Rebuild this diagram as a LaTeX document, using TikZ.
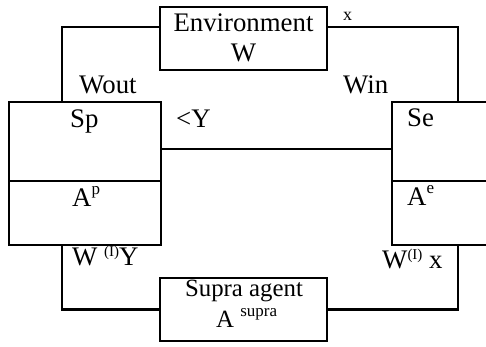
\documentclass[tikz,border=0pt]{standalone}
\usepackage{fontspec}
\setmainfont{Liberation Serif}
\newcommand{\supsc}[1]{\raisebox{0.42em}{\fontsize{17}{17}\selectfont #1}}
\newcommand{\supsl}[1]{\raisebox{0.30em}{\fontsize{15}{15}\selectfont #1}}
\begin{document}
\begin{tikzpicture}[x=1pt,y=-1pt,
  box/.style={draw, line width=2.7pt, rectangle, inner sep=0pt},
  conn/.style={line width=2.7pt},
  lab/.style={inner sep=0pt, font=\fontsize{26.8}{30}\selectfont},
  labs/.style={inner sep=0pt, font=\fontsize{24.8}{28}\selectfont},
  small/.style={inner sep=0pt, font=\fontsize{18}{20}\selectfont}]
\clip (0,0) rectangle (486,347);
\node[box, minimum width=167pt, minimum height=63pt] (env) at (243.5,38.5) {};
\node[box, minimum width=152pt, minimum height=79pt] (sp) at (85,141.5) {};
\node[box, minimum width=152pt, minimum height=64pt] (ap) at (85,213) {};
\node[box, minimum width=118pt, minimum height=79pt] (se) at (451,141.5) {};
\node[box, minimum width=118pt, minimum height=64pt] (ae) at (451,213) {};
\node[box, minimum width=167pt, minimum height=63pt] (supra) at (243.5,309.5) {};
\coordinate (lx) at (62,0);
\coordinate (rx) at (458,0);
\coordinate (ty) at (0,27);
\coordinate (my) at (0,149);
\draw[conn] (env.west |- ty) -| (sp.north -| lx);
\draw[conn] (env.east |- ty) -| (se.north -| rx);
\draw[conn] (sp.east |- my) -- (se.west |- my);
\draw[conn] (ap.south -| lx) |- (supra.west);
\draw[conn] (ae.south -| rx) |- (supra.east);
% labels
\node[lab, anchor=base] (t1) at (243.5,32) {Environment};
\node[lab, anchor=base] (t2) at (243.5,62) {W};
\node[small, anchor=base west] (t3) at (343,21) {x};
\node[lab, anchor=base west] (t4) at (79,94) {Wout};
\node[lab, anchor=base west] (t5) at (343,94) {Win};
\node[lab, anchor=base west] (t6) at (70,128) {Sp};
\node[lab, anchor=base west] (t7) at (176,128) {<Y};
\node[lab, anchor=base west] (t8) at (407,127) {Se};
\node[lab, anchor=base west] (t9) at (72,206) {A\supsc{p}};
\node[lab, anchor=base west] (t10) at (407,205) {A\supsc{e}};
\node[lab, anchor=base west] (t11) at (72,265) {W \supsl{(I)}Y};
\node[lab, anchor=base west] (t12) at (382,268) {W\supsl{(I)} x};
\node[labs, anchor=base] (t13) at (244,296) {Supra agent};
\node[labs, anchor=base west] (t14) at (216,327) {A \supsc{supra}};
\end{tikzpicture}
\end{document}
